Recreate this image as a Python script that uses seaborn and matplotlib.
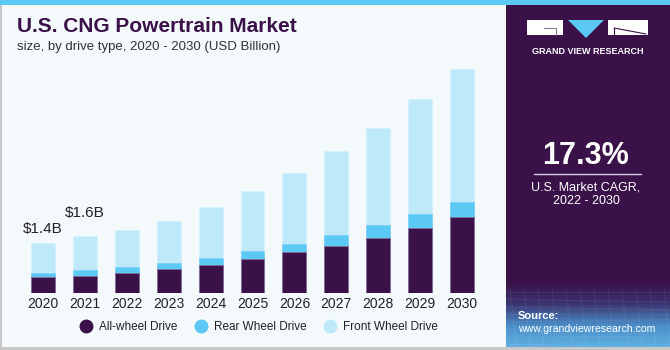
import numpy as np
import matplotlib
matplotlib.use("Agg")
import matplotlib.pyplot as plt
import matplotlib.patches as mpatches
from matplotlib.lines import Line2D
import seaborn as sns

sns.set_theme(style="white")
plt.rcParams['font.family'] = ['Liberation Sans', 'DejaVu Sans']

# data (USD Billion)
years = ["2020", "2021", "2022", "2023", "2024", "2025", "2026", "2027", "2028", "2029", "2030"]
all_wheel = [0.45, 0.48, 0.57, 0.67, 0.79, 0.94, 1.15, 1.32, 1.55, 1.83, 2.14]
rear_wheel = [0.11, 0.16, 0.15, 0.16, 0.20, 0.23, 0.22, 0.31, 0.36, 0.37, 0.42]
front_wheel = [0.84, 0.96, 1.04, 1.18, 1.42, 1.68, 1.99, 2.34, 2.72, 3.22, 3.70]
series_names = ["All-wheel Drive", "Rear Wheel Drive", "Front Wheel Drive"]
value_labels = {0: "$1.4B", 1: "$1.6B"}

purple = "#3a1149"
blue = "#5bc8f5"
light_blue = "#bde9fa"
bg = "#f4f9fc"

fig = plt.figure(figsize=(6.7, 3.5), dpi=100)
fig.patch.set_facecolor(bg)

# full-figure canvas in pixel coords for the frame and side panel
deco = fig.add_axes([0, 0, 1, 1])
deco.axis("off")
deco.add_patch(mpatches.Rectangle((0, 0), 670, 5, color=blue, lw=0))
deco.add_patch(mpatches.Rectangle((0, 5), 1.5, 345, color="#c8c8c8", lw=0))
deco.add_patch(mpatches.Rectangle((0, 347), 670, 3, color="#c8c8c8", lw=0))
deco.add_patch(mpatches.Rectangle((506, 5), 164, 342, color=purple, lw=0))

# gradient at the bottom of the side panel
grad = np.linspace(0, 1, 100)[:, None]
cmap = matplotlib.colors.LinearSegmentedColormap.from_list("g", [purple, "#3b3470", "#4a8cc8", "#5fb0e0"])
deco.imshow(grad, extent=(506, 670, 347, 282), cmap=cmap, aspect="auto", zorder=1)
for k in range(8):
    yy = 292 + k * 7.5
    deco.plot([506, 670], [yy, yy + 3 * np.sin(k)], color="white", alpha=0.08, lw=0.6, zorder=2)
for k in range(12):
    xx = 510 + k * 14
    deco.plot([xx, xx + 6], [288, 347], color="white", alpha=0.07, lw=0.6, zorder=2)
deco.set_xlim(0, 670)
deco.set_ylim(350, 0)

# logo
deco.add_patch(mpatches.Rectangle((527, 20), 36, 15, color="white", lw=0, zorder=3))
deco.plot([544, 556], [28, 28], color="#8a7a96", lw=0.8, zorder=4)
deco.plot([556, 556], [28, 35], color="#8a7a96", lw=0.8, zorder=4)
deco.add_patch(mpatches.Polygon([(568, 20), (604, 20), (586, 38)], closed=True, color=blue, lw=0, zorder=3))
deco.add_patch(mpatches.Rectangle((608, 20), 40, 15, color="white", lw=0, zorder=3))
deco.plot([614, 646], [28, 34], color=purple, lw=0.8, zorder=4)
deco.plot([614, 614], [28, 35], color=purple, lw=0.8, zorder=4)
deco.text(588, 51, "GRAND VIEW RESEARCH", color="white", fontsize=6.5, fontweight="bold",
          ha="center", va="center", zorder=4)

deco.text(586, 156, "17.3%", color="white", fontsize=22, fontweight="bold", ha="center", va="center", zorder=4)
deco.plot([534, 641], [173.5, 173.5], color="#d8d0e0", lw=1, zorder=4)
deco.text(586, 187, "U.S. Market CAGR,", color="white", fontsize=9, ha="center", va="center", zorder=4)
deco.text(586, 201, "2022 - 2030", color="white", fontsize=9, ha="center", va="center", zorder=4)
deco.text(518, 316, "Source:", color="white", fontsize=8, fontweight="bold", ha="left", va="center", zorder=4)
deco.text(518, 329, "www.grandviewresearch.com", color="white", fontsize=7.6, ha="left", va="center", zorder=4)

# title
deco.text(17, 27, "U.S. CNG Powertrain Market", color=purple, fontsize=15, fontweight="heavy",
          ha="left", va="center")
deco.text(17, 47, "size, by drive type, 2020 - 2030 (USD Billion)", color="#333333", fontsize=9.5,
          ha="left", va="center")

# chart
ax = fig.add_axes([20 / 670, (350 - 293) / 350, 465 / 670, 233 / 350])
ax.set_facecolor("none")
awd = np.array(all_wheel)
lower = awd + np.array(rear_wheel)
total = lower + np.array(front_wheel)

sns.barplot(x=years, y=total, color=light_blue, saturation=1, width=0.57,
            edgecolor="#d6f1fc", linewidth=0.8, ax=ax)
sns.barplot(x=years, y=lower, color=blue, saturation=1, width=0.57,
            edgecolor="#7dd3f7", linewidth=0.6, ax=ax)
sns.barplot(x=years, y=awd, color=purple, saturation=1, width=0.57,
            edgecolor="#8a6f98", linewidth=0.6, ax=ax)

label_lift = [0.39, 0.64]
for i, lab in value_labels.items():
    ax.text(i, total[i] + label_lift[i], lab, ha="center", va="center", fontsize=11, color="#222222")

ax.set_xlim(-0.55, 10.55)
ax.set_ylim(0, 6.52)
ax.set_xlabel("")
ax.set_ylabel("")
ax.set_yticks([])
ax.tick_params(axis="x", length=0, pad=3, labelsize=10, labelcolor="#222222")
sns.despine(ax=ax, left=True, bottom=True)

handles = [Line2D([], [], marker="o", ls="", markersize=9, color=c) for c in [purple, blue, light_blue]]
fig.legend(handles, series_names, loc="center", bbox_to_anchor=(256 / 670, 23 / 350), ncol=3,
           frameon=False, fontsize=8.5, handletextpad=0.1, columnspacing=1.0, labelcolor="#222222")

fig.savefig("out.png", dpi=100, facecolor=fig.get_facecolor())
